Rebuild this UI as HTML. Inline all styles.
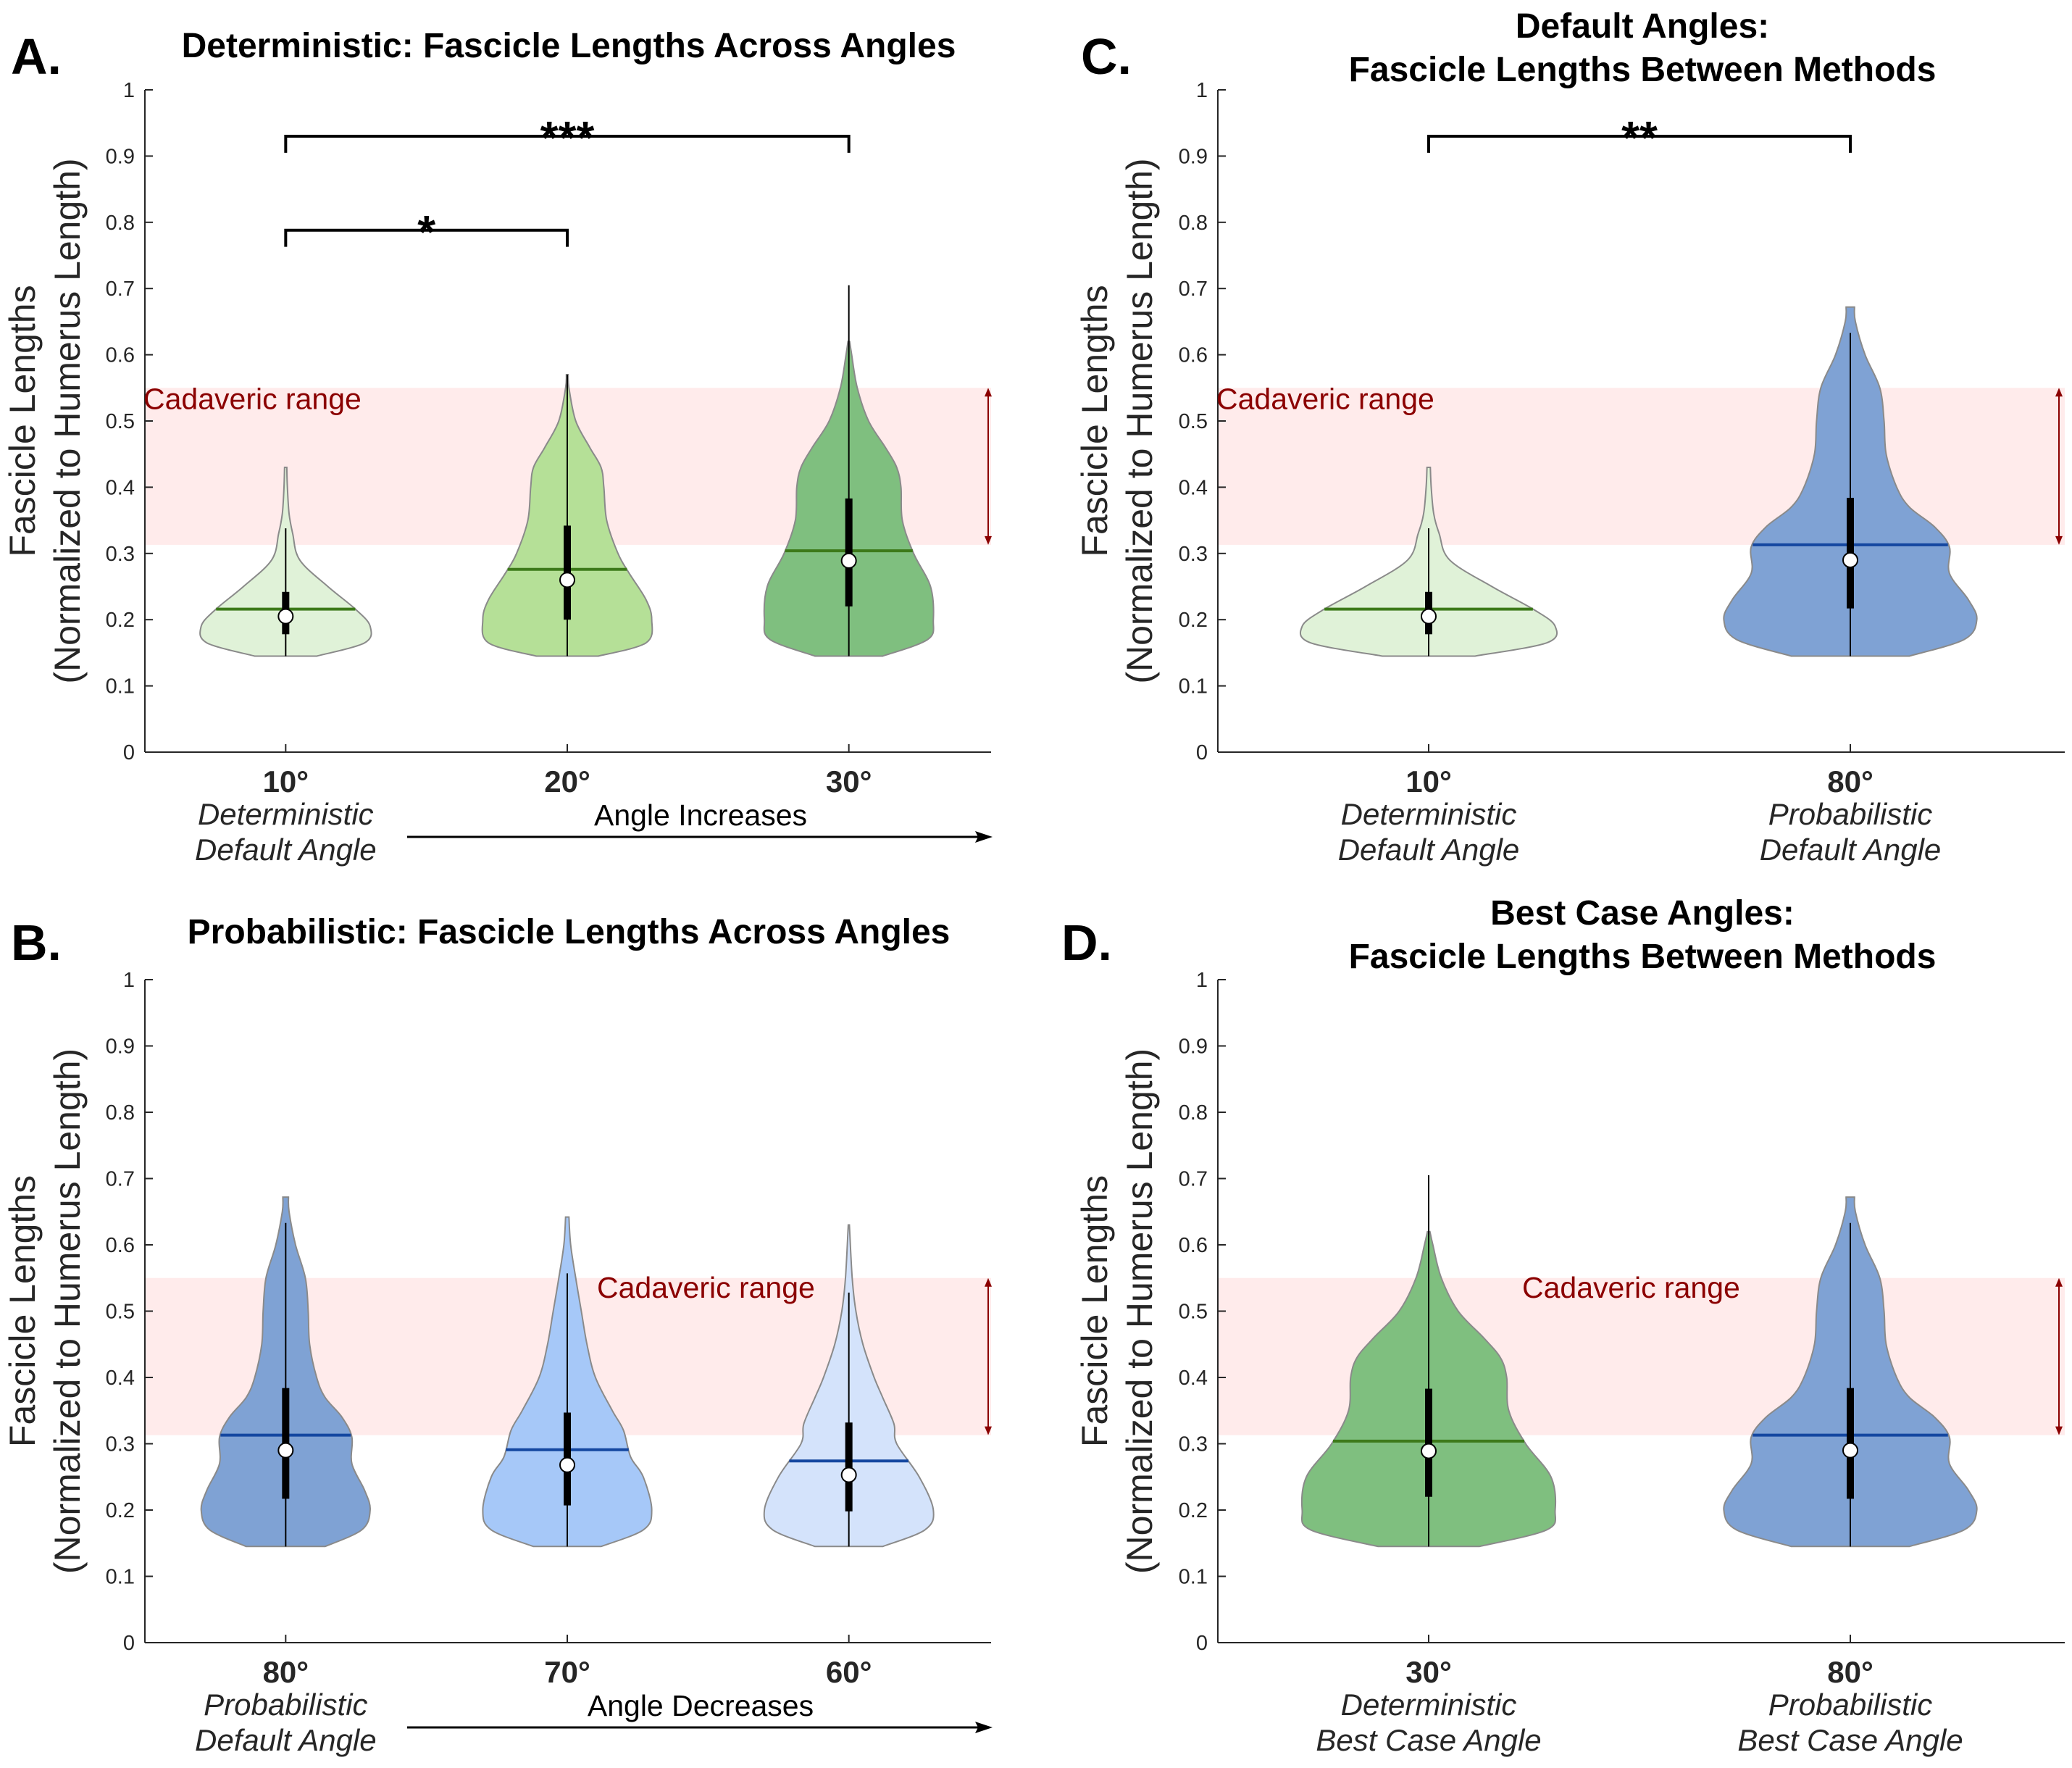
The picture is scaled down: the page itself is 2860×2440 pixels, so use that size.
<!DOCTYPE html>
<html><head><meta charset="utf-8">
<style>
html,body{margin:0;padding:0;background:#fff;}
svg{display:block;font-family:"Liberation Sans",Arial,sans-serif;}
</style></head>
<body>
<svg id="fig" width="2860" height="2440" viewBox="0 0 2860 2440" xmlns="http://www.w3.org/2000/svg"></svg>
<script>
// ---------- data ----------
const yTicks = [0,0.1,0.2,0.3,0.4,0.5,0.6,0.7,0.8,0.9,1];
const yTickLabels = ["0","0.1","0.2","0.3","0.4","0.5","0.6","0.7","0.8","0.9","1"];
const cadaverLow = 0.313;
const cadaverHigh = 0.55;

// violin density profiles: y levels and half-widths (in category units)
const profDet10Y  = [0.145,0.165,0.19,0.215,0.25,0.29,0.33,0.36,0.40,0.43];
const profDet10W  = [0.11,0.28,0.30,0.25,0.15,0.05,0.025,0.012,0.006,0.004];
const profDet20Y  = [0.145,0.165,0.20,0.23,0.27,0.30,0.35,0.40,0.43,0.46,0.50,0.55,0.57];
const profDet20W  = [0.11,0.28,0.30,0.28,0.22,0.18,0.14,0.13,0.12,0.08,0.03,0.006,0.003];
const profDet30Y  = [0.145,0.17,0.20,0.25,0.30,0.35,0.40,0.43,0.46,0.50,0.55,0.60,0.62];
const profDet30W  = [0.12,0.28,0.30,0.29,0.23,0.19,0.185,0.17,0.13,0.07,0.03,0.01,0.003];
const profProb80Y = [0.145,0.17,0.20,0.23,0.27,0.31,0.34,0.37,0.40,0.45,0.50,0.55,0.60,0.65,0.672];
const profProb80W = [0.14,0.27,0.30,0.28,0.235,0.235,0.20,0.14,0.11,0.085,0.08,0.07,0.035,0.012,0.01];
const profProb70Y = [0.145,0.17,0.20,0.25,0.28,0.32,0.35,0.40,0.45,0.50,0.55,0.60,0.642];
const profProb70W = [0.12,0.27,0.30,0.27,0.225,0.20,0.16,0.10,0.07,0.05,0.03,0.012,0.006];
const profProb60Y = [0.145,0.17,0.20,0.25,0.30,0.33,0.37,0.40,0.45,0.50,0.55,0.63];
const profProb60W = [0.12,0.27,0.30,0.25,0.17,0.16,0.12,0.09,0.05,0.025,0.012,0.002];

// summary stats: [whiskerLow, q1, median, q3, whiskerHigh, mean]
const statDet10  = [0.145,0.178,0.205,0.242,0.338,0.216];
const statDet20  = [0.145,0.200,0.260,0.342,0.570,0.276];
const statDet30  = [0.145,0.220,0.289,0.383,0.705,0.304];
const statProb80 = [0.145,0.217,0.290,0.384,0.633,0.313];
const statProb70 = [0.145,0.207,0.268,0.347,0.557,0.291];
const statProb60 = [0.145,0.198,0.253,0.332,0.528,0.274];

const catsA = ["10°","20°","30°"];
const catsB = ["80°","70°","60°"];
const catsC = ["10°","80°"];
const catsD = ["30°","80°"];

// ---------- helpers ----------
const NS = "http://www.w3.org/2000/svg";
const svg = document.getElementById('fig');
function mk(tag, attrs, parent, text){
  const e = document.createElementNS(NS, tag);
  for (const k in attrs) e.setAttribute(k, attrs[k]);
  if (text !== undefined) e.textContent = text;
  (parent||svg).appendChild(e);
  return e;
}
function smoothPath(pts){
  let d = "M"+pts[0][0].toFixed(1)+","+pts[0][1].toFixed(1);
  for (let i=0;i<pts.length-1;i++){
    const p0=pts[Math.max(i-1,0)], p1=pts[i], p2=pts[i+1], p3=pts[Math.min(i+2,pts.length-1)];
    const c1=[p1[0]+(p2[0]-p0[0])/6, p1[1]+(p2[1]-p0[1])/6];
    const c2=[p2[0]-(p3[0]-p1[0])/6, p2[1]-(p3[1]-p1[1])/6];
    d+=" C"+c1[0].toFixed(1)+","+c1[1].toFixed(1)+" "+c2[0].toFixed(1)+","+c2[1].toFixed(1)+" "+p2[0].toFixed(1)+","+p2[1].toFixed(1);
  }
  return d;
}
function interpW(Y,W,y){
  if (y<=Y[0]) return W[0];
  for (let i=0;i<Y.length-1;i++){ if (y<=Y[i+1]){ const t=(y-Y[i])/(Y[i+1]-Y[i]); return W[i]+t*(W[i+1]-W[i]); } }
  return W[W.length-1];
}

function panel(cfg){
  const g = mk('g',{});
  
  
  const x0=cfg.x0, x1=cfg.x1, yTop=cfg.yTop, yBot=cfg.yBot;
  const n=cfg.cats.length;
  const xs = v => x0 + (v-0.5)/n*(x1-x0);
  const unit = (x1-x0)/n;
  const ys = v => yBot - v*(yBot-yTop);

  const band = mk('rect',{x:x0,y:ys(cadaverHigh),width:cfg.axisEnd-x0,height:ys(cadaverLow)-ys(cadaverHigh),fill:'#ffebeb'},g);
  
  

  cfg.violins.forEach((v,i)=>{
    const cx = xs(i+1);
    const vg = mk('g',{},g);
    
    
    const right = v.Y.map((yy,k)=>[cx+v.W[k]*unit, ys(yy)]);
    const left = v.Y.map((yy,k)=>[cx-v.W[k]*unit, ys(yy)]).reverse();
    let d = smoothPath(right);
    const top = v.Y[v.Y.length-1];
    d += " L"+(cx-v.W[v.W.length-1]*unit).toFixed(1)+","+ys(top).toFixed(1);
    d += smoothPath(left).replace(/^M/," L") + " Z";
    mk('path',{d:d,fill:v.color,stroke:'#8a8a8a','stroke-width':2},vg);
    const s=v.stat;
    const mw = interpW(v.Y,v.W,s[5])*unit;
    mk('line',{x1:cx-mw,x2:cx+mw,y1:ys(s[5]),y2:ys(s[5]),stroke:v.meanColor,'stroke-width':4},vg);
    mk('line',{x1:cx,x2:cx,y1:ys(s[0]),y2:ys(s[4]),stroke:'#000','stroke-width':2},vg);
    mk('rect',{x:cx-5,y:ys(s[3]),width:10,height:ys(s[1])-ys(s[3]),fill:'#000'},vg);
    mk('circle',{cx:cx,cy:ys(s[2]),r:10,fill:'#fff',stroke:'#000','stroke-width':2},vg);
  });

  const ax = mk('g',{},g);
  
  
  mk('line',{x1:x0,x2:x0,y1:yTop,y2:yBot,stroke:'#262626','stroke-width':2},ax);
  mk('line',{x1:x0,x2:cfg.axisEnd,y1:yBot,y2:yBot,stroke:'#262626','stroke-width':2},ax);
  yTicks.forEach((t,k)=>{
    mk('line',{x1:x0,x2:x0+11,y1:ys(t),y2:ys(t),stroke:'#262626','stroke-width':2},ax);
    const tl = mk('text',{x:x0-14,y:ys(t)+10,'text-anchor':'end','font-size':29,fill:'#262626'},ax,yTickLabels[k]);
    
    
  });
  cfg.cats.forEach((c,i)=>{
    mk('line',{x1:xs(i+1),x2:xs(i+1),y1:yBot,y2:yBot-11,stroke:'#262626','stroke-width':2},ax);
    const cl = mk('text',{x:xs(i+1),y:yBot+55,'text-anchor':'middle','font-size':42,'font-weight':'bold',fill:'#262626'},ax,c);
    
    
  });
  cfg.sub.forEach(s=>{
    const st = mk('text',{x:xs(s.i),y:yBot+100,'text-anchor':'middle','font-size':42,'font-style':'italic',fill:'#262626'},g,s.l1);
    
    
    const st2 = mk('text',{x:xs(s.i),y:yBot+149,'text-anchor':'middle','font-size':42,'font-style':'italic',fill:'#262626'},g,s.l2);
    
    
  });
  if (cfg.arrowText){
    const at = mk('text',{x:967,y:yBot+101,'text-anchor':'middle','font-size':41,fill:'#000'},g,cfg.arrowText);
    
    
    const ar = mk('g',{},g);
    
    
    mk('line',{x1:562,x2:1355,y1:yBot+117,y2:yBot+117,stroke:'#000','stroke-width':3},ar);
    mk('path',{d:`M1370,${yBot+117} L1346,${yBot+109} L1350,${yBot+117} L1346,${yBot+125} Z`,fill:'#000'},ar);
  }
  const yl = mk('text',{transform:`translate(${cfg.ylx},${(yTop+yBot)/2}) rotate(-90)`,'text-anchor':'middle','font-size':50,fill:'#262626'},g);
  
  
  mk('tspan',{x:0,y:0},yl,'Fascicle Lengths');
  mk('tspan',{x:0,y:62},yl,'(Normalized to Humerus Length)');
  const tt = mk('text',{x:cfg.titleX,'text-anchor':'middle','font-size':48,'font-weight':'bold',fill:'#000'},g);
  
  
  cfg.title.forEach((l,k)=>mk('tspan',{x:cfg.titleX,y:cfg.titleY+k*60},tt,l));
  const pl = mk('text',{x:cfg.letterX,y:cfg.letterY,'font-size':70,'font-weight':'bold',fill:'#000'},g,cfg.letter);
  
  
  const ct = mk('text',{x:cfg.cadX,y:ys(cfg.cadY),'font-size':41,fill:'#8b0000'},g,'Cadaveric range');
  
  
  const ca = mk('g',{},g);
  
  
  const axx = cfg.cadArrowX;
  mk('line',{x1:axx,x2:axx,y1:ys(cadaverHigh)+6,y2:ys(cadaverLow)-6,stroke:'#8b0000','stroke-width':2},ca);
  mk('path',{d:`M${axx},${ys(cadaverHigh)} l-5,12 l10,0 Z`,fill:'#8b0000'},ca);
  mk('path',{d:`M${axx},${ys(cadaverLow)} l-5,-12 l10,0 Z`,fill:'#8b0000'},ca);
  (cfg.sig||[]).forEach(s=>{
    const sg = mk('g',{},g);
    
    
    const a=xs(s.a), b=xs(s.b), y=ys(s.y), y2=ys(s.y-0.025);
    mk('path',{d:`M${a},${y2} L${a},${y} L${b},${y} L${b},${y2}`,fill:'none',stroke:'#000','stroke-width':4},sg);
    mk('text',{x:(a+b)/2,y:y+24,'text-anchor':'middle','font-size':64,'font-weight':'bold',fill:'#000'},sg,s.label);
  });
}

const green10 = '#e0f2d8', green20='#b5e097', green30='#7fbf7f';
const blue80 = '#7fa2d4', blue70='#a6c8f8', blue60='#d4e3fb';
const gMean='#3d7a1a', bMean='#1447a0';

panel({name:'panel-a-deterministic',letter:'A.',letterX:15,letterY:102,x0:200,x1:1366,axisEnd:1368,yTop:124,yBot:1038,
  cats:catsA,ylx:48,titleX:785,titleY:79,title:['Deterministic: Fascicle Lengths Across Angles'],
  violins:[{Y:profDet10Y,W:profDet10W,stat:statDet10,color:green10,meanColor:gMean},
           {Y:profDet20Y,W:profDet20W,stat:statDet20,color:green20,meanColor:gMean},
           {Y:profDet30Y,W:profDet30W,stat:statDet30,color:green30,meanColor:gMean}],
  sub:[{i:1,l1:'Deterministic',l2:'Default Angle'}],arrowText:'Angle Increases',
  cadX:198,cadY:0.518,cadArrowX:1364,
  sig:[{a:1,b:3,y:0.93,label:'***'},{a:1,b:2,y:0.788,label:'*'}]});

panel({name:'panel-b-probabilistic',letter:'B.',letterX:15,letterY:1325,x0:200,x1:1366,axisEnd:1368,yTop:1352,yBot:2267,
  cats:catsB,ylx:48,titleX:785,titleY:1302,title:['Probabilistic: Fascicle Lengths Across Angles'],
  violins:[{Y:profProb80Y,W:profProb80W,stat:statProb80,color:blue80,meanColor:bMean},
           {Y:profProb70Y,W:profProb70W,stat:statProb70,color:blue70,meanColor:bMean},
           {Y:profProb60Y,W:profProb60W,stat:statProb60,color:blue60,meanColor:bMean}],
  sub:[{i:1,l1:'Probabilistic',l2:'Default Angle'}],arrowText:'Angle Decreases',
  cadX:824,cadY:0.52,cadArrowX:1364});

panel({name:'panel-c-default-angles',letter:'C.',letterX:1492,letterY:102,x0:1681,x1:2845,axisEnd:2850,yTop:124,yBot:1038,
  cats:catsC,ylx:1528,titleX:2267,titleY:52,title:['Default Angles:','Fascicle Lengths Between Methods'],
  violins:[{Y:profDet10Y,W:profDet10W,stat:statDet10,color:green10,meanColor:gMean},
           {Y:profProb80Y,W:profProb80W,stat:statProb80,color:blue80,meanColor:bMean}],
  sub:[{i:1,l1:'Deterministic',l2:'Default Angle'},{i:2,l1:'Probabilistic',l2:'Default Angle'}],
  cadX:1679,cadY:0.518,cadArrowX:2842,
  sig:[{a:1,b:2,y:0.93,label:'**'}]});

panel({name:'panel-d-best-case-angles',letter:'D.',letterX:1465,letterY:1325,x0:1681,x1:2845,axisEnd:2850,yTop:1352,yBot:2267,
  cats:catsD,ylx:1528,titleX:2267,titleY:1276,title:['Best Case Angles:','Fascicle Lengths Between Methods'],
  violins:[{Y:profDet30Y,W:profDet30W,stat:statDet30,color:green30,meanColor:gMean},
           {Y:profProb80Y,W:profProb80W,stat:statProb80,color:blue80,meanColor:bMean}],
  sub:[{i:1,l1:'Deterministic',l2:'Best Case Angle'},{i:2,l1:'Probabilistic',l2:'Best Case Angle'}],
  cadX:2101,cadY:0.52,cadArrowX:2842});
</script>
</body></html>
